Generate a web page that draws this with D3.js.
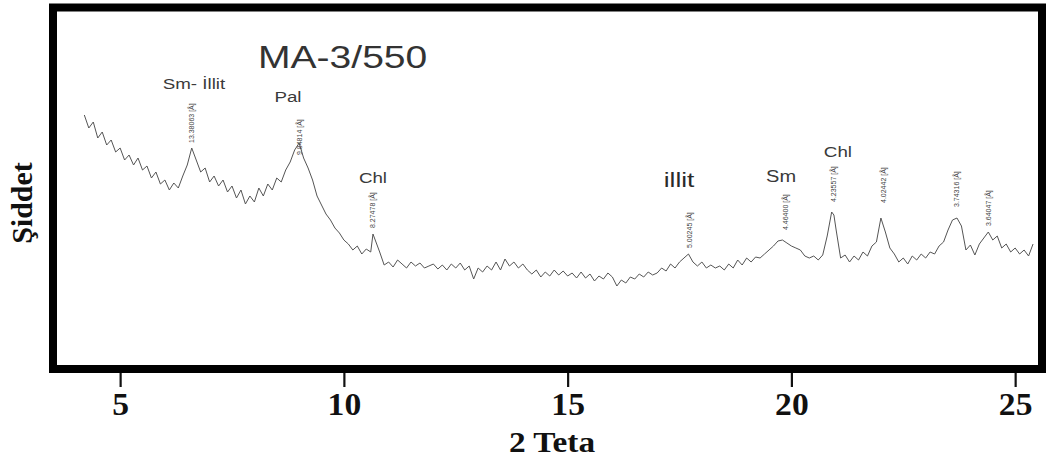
<!DOCTYPE html>
<html>
<head>
<meta charset="utf-8">
<script src="https://cdn.jsdelivr.net/npm/d3@7"></script>
<style>
  html, body { margin: 0; padding: 0; background: #fff; }
  svg { display: block; }
</style>
</head>
<body>
<svg id="chart" width="1048" height="461"></svg>
<script>
// ---- data ----
const twoTheta = [
  4.2,4.3,4.4,4.5,4.6,4.7,4.8,4.9,5.0,5.1,5.2,5.3,5.4,5.5,5.6,5.7,5.8,5.9,
  6.0,6.1,6.2,6.3,6.4,6.5,6.6,6.7,6.8,6.9,7.0,7.1,7.2,7.3,7.4,7.5,7.6,7.7,7.8,7.9,
  8.0,8.1,8.2,8.3,8.4,8.5,8.6,8.7,8.8,8.9,9.0,9.1,9.2,9.3,9.4,9.5,9.6,9.7,9.8,9.9,
  10.0,10.1,10.2,10.3,10.4,10.5,10.6,10.65,10.8,10.9,11.0,11.1,11.2,11.3,11.4,11.5,11.6,11.7,11.8,11.9,
  12.0,12.1,12.2,12.3,12.4,12.5,12.6,12.7,12.8,12.9,13.0,13.1,13.2,13.3,13.4,13.5,13.6,13.7,13.8,13.9,
  14.0,14.1,14.2,14.3,14.4,14.5,14.6,14.7,14.8,14.9,15.0,15.1,15.2,15.3,15.4,15.5,15.6,15.7,15.8,15.9,
  16.0,16.1,16.2,16.3,16.4,16.5,16.6,16.7,16.8,16.9,17.0,17.1,17.2,17.3,17.4,17.5,17.6,17.7,17.8,17.9,
  18.0,18.1,18.2,18.3,18.4,18.5,18.6,18.7,18.8,18.9,19.0,19.1,19.2,19.3,19.4,19.5,19.6,19.7,19.8,19.9,
  20.0,20.1,20.2,20.3,20.4,20.5,20.6,20.7,20.8,20.9,20.95,21.0,21.1,21.2,21.3,21.4,21.5,21.6,21.7,21.8,21.9,
  22.0,22.1,22.2,22.3,22.4,22.5,22.6,22.7,22.8,22.9,23.0,23.1,23.2,23.3,23.4,23.5,23.6,23.7,23.8,23.9,
  24.0,24.1,24.2,24.3,24.4,24.5,24.6,24.7,24.8,24.9,25.0,25.1,25.2,25.3,25.4
];
const intensity = [
  254,241,247,231,237,224,229,217,221,209,214,204,211,199,203,191,197,185,
  189,179,186,181,193,204,221,209,197,201,187,193,183,189,177,183,171,179,165,173,
  167,181,173,185,179,191,187,199,207,219,226,211,201,189,173,164,155,149,141,136,
  129,125,119,123,115,120,117,135,117,104,107,102,109,105,101,107,103,106,101,103,
  105,100,104,99,105,101,106,99,103,90,101,97,103,99,107,99,110,103,107,101,
  105,99,95,99,92,97,93,99,94,98,93,96,91,97,91,95,88,93,90,96,
  92,83,89,86,92,90,95,92,97,94,96,101,98,105,101,107,111,115,107,103,
  107,101,104,101,103,99,105,101,109,104,111,107,112,111,115,119,123,128,129,126,
  123,121,119,113,111,113,109,114,133,157,154,139,111,114,107,113,109,117,113,123,127,
  151,137,121,115,107,111,105,113,109,115,111,117,115,123,127,139,149,151,143,119,
  124,114,125,131,137,129,133,121,125,117,121,115,119,113,125
];
const xTicks = [5, 10, 15, 20, 25];

// d-spacing annotations
const dLabels = ["13.38063 [Å]","9.84814 [Å]","8.27478 [Å]","5.00245 [Å]","4.46400 [Å]","4.23557 [Å]","4.02442 [Å]","3.74316 [Å]","3.64047 [Å]"];
const dTheta  = [6.6, 9.0, 10.65, 17.72, 19.88, 20.95, 22.06, 23.7, 24.4];
const dLevel  = [226, 214, 141, 121, 139, 167, 166, 162, 143];

// mineral annotations
const minerals     = ["Sm- İllit", "Pal", "Chl", "illit", "Sm", "Chl"];
const mineralTheta = [6.65, 8.75, 10.65, 17.49, 19.77, 21.04];
const mineralLevel = [280, 267, 186, 182, 187, 212];

const title = "MA-3/550";
const xTitle = "2 Teta";
const yTitle = "Şiddet";

// ---- drawing ----
const svg = d3.select("#chart");
const pLeft = 53, pRight = 1042, pTop = 7.5, pBottom = 369;
const x = d3.scaleLinear().domain([3.5, 25.6]).range([pLeft, pRight]);
const y = d3.scaleLinear().domain([0, 361.5]).range([pBottom, pTop]);
const stretch = 1.25;

const pts = twoTheta.map((t, i) => [t, intensity[i]]);

// data line
svg.append("path")
  .datum(pts)
  .attr("fill", "none")
  .attr("stroke", "#555")
  .attr("stroke-width", 1)
  .attr("stroke-linejoin", "round")
  .attr("d", d3.line().x(d => x(d[0])).y(d => y(d[1])));

// x axis ticks
const axis = svg.append("g")
  .attr("transform", `translate(0,${pBottom})`)
  .call(d3.axisBottom(x).tickValues(xTicks).tickSize(18).tickPadding(0).tickFormat(d3.format("d")));
axis.select(".domain").remove();
axis.selectAll(".tick line").attr("stroke", "#111").attr("stroke-width", 2.2);
axis.selectAll(".tick text")
  .attr("y", 46).attr("dy", null)
  .attr("transform", "scale(1.05,1)")
  .attr("x", 0)
  .attr("fill", "#111")
  .style("font-family", "'Liberation Serif', 'Times New Roman', serif")
  .style("font-weight", "bold")
  .style("font-size", "32px");

// frame
svg.append("rect")
  .attr("x", pLeft).attr("y", pTop)
  .attr("width", pRight - pLeft).attr("height", pBottom - pTop)
  .attr("fill", "none").attr("stroke", "#000").attr("stroke-width", 8);

// axis titles
svg.append("text")
  .attr("transform", "translate(552,452) scale(1.15,1)")
  .attr("text-anchor", "middle")
  .attr("fill", "#111")
  .style("font-family", "'Liberation Serif', 'Times New Roman', serif")
  .style("font-weight", "bold").style("font-size", "29px")
  .text(xTitle);

svg.append("text")
  .attr("transform", "translate(32,203) rotate(-90)")
  .attr("text-anchor", "middle")
  .attr("fill", "#111")
  .style("font-family", "'Liberation Serif', 'Times New Roman', serif")
  .style("font-weight", "bold").style("font-size", "30px")
  .text(yTitle);

// title
svg.append("text")
  .attr("transform", `translate(258,68) scale(1.26,1)`)
  .attr("fill", "#333")
  .style("font-family", "'Liberation Sans', Arial, sans-serif")
  .style("font-size", "31px")
  .text(title);

// d-spacing labels (rotated)
svg.append("g").selectAll("text")
  .data(dLabels)
  .join("text")
  .attr("transform", (d, i) => `translate(${x(dTheta[i])},${y(dLevel[i])}) rotate(-90)`)
  .attr("dy", "0.35em")
  .attr("fill", "#444")
  .style("font-family", "'Liberation Sans', Arial, sans-serif")
  .style("font-size", "7px")
  .text(d => d);

// mineral labels
svg.append("g").selectAll("text")
  .data(minerals)
  .join("text")
  .attr("transform", (d, i) => `translate(${x(mineralTheta[i])},${y(mineralLevel[i])}) scale(${stretch},1)`)
  .attr("text-anchor", "middle")
  .attr("fill", (d) => d === "illit" ? "#2a2a2a" : "#3a3a3a")
  .style("font-family", "'Liberation Sans', Arial, sans-serif")
  .style("font-size", (d) => d === "illit" ? "21px" : (d === "Sm" ? "16px" : "15px"))
  .text(d => d);
</script>
</body>
</html>
